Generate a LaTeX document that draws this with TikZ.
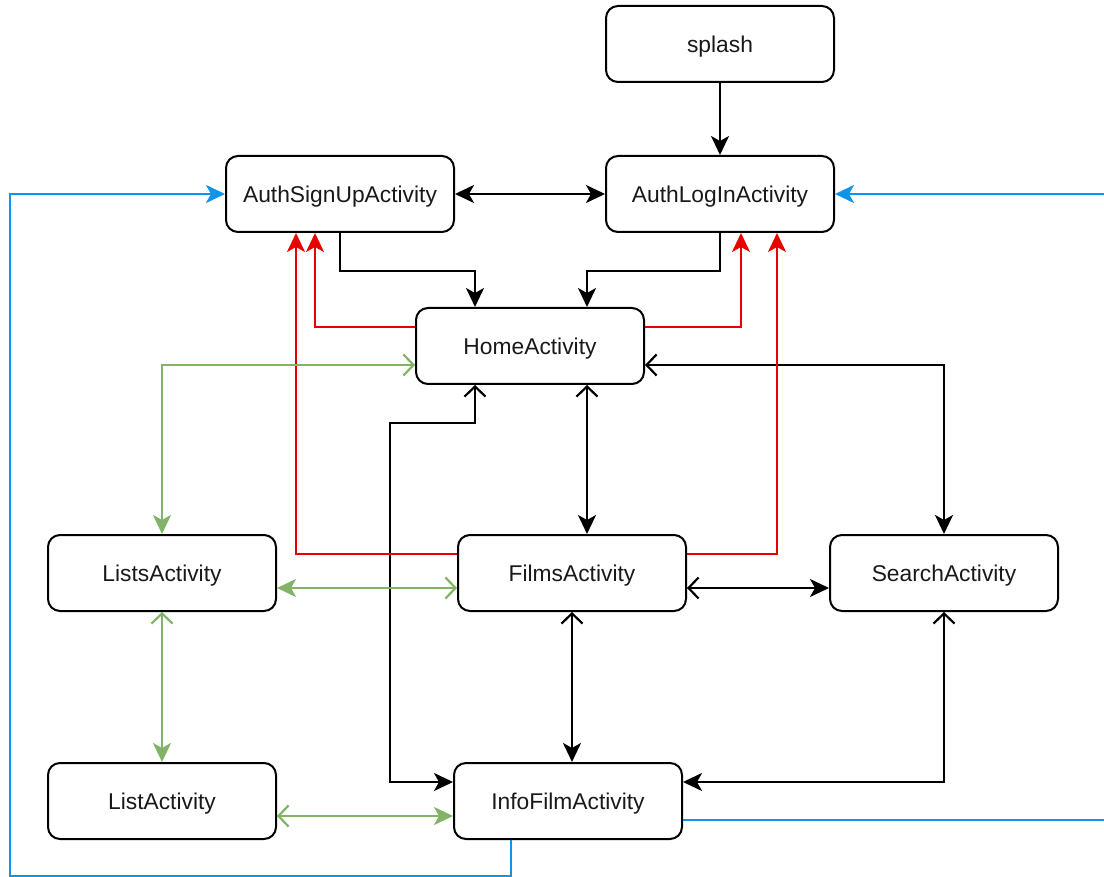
\documentclass[tikz,border=0pt]{standalone}
\usepackage{fontspec}
\setmainfont{Liberation Sans}
\usetikzlibrary{arrows.meta}
\definecolor{flowgreen}{HTML}{82B366}
\definecolor{flowred}{HTML}{E80000}
\definecolor{flowblue}{HTML}{0F94E6}
\tikzstyle{activity} = [rectangle, rounded corners=12pt,
minimum width=228pt,
minimum height=76pt,
text height=22pt,
text depth=5.6pt,
text centered,
draw=black,
line width=2pt,
text=black!90,
font=\fontsize{22.8}{27}\selectfont]
\tikzstyle{arrow} = [line width=2.2pt]
\tikzstyle{fill tip} = [-{Stealth[length=19pt,width=18pt,inset=5pt]}]
\tikzstyle{both tip} = [{Stealth[length=19pt,width=18pt,inset=5pt]}-{Stealth[length=19pt,width=18pt,inset=5pt]}]
\tikzstyle{open fill} = [{Straight Barb[length=10pt,width=21pt]}-{Stealth[length=19pt,width=18pt,inset=5pt]}]
\tikzstyle{fill open} = [{Stealth[length=19pt,width=18pt,inset=5pt]}-{Straight Barb[length=10pt,width=21pt]}]
\begin{document}
\begin{tikzpicture}[x=1pt,y=-1pt]
        \useasboundingbox (0,0) rectangle (1104,877);
        \node (splash) [activity] at (720,44) {splash};
        \node (signup) [activity] at (340,194) {AuthSignUpActivity};
        \node (login) [activity] at (720,194) {AuthLogInActivity};
        \node (home) [activity] at (530,346) {HomeActivity};
        \node (lists) [activity] at (162,573) {ListsActivity};
        \node (films) [activity] at (572,573) {FilmsActivity};
        \node (search) [activity] at (944,573) {SearchActivity};
        \node (list) [activity] at (162,801) {ListActivity};
        \node (info) [activity] at (568,801) {InfoFilmActivity};
        \coordinate (bl) at (10,876);
        \coordinate (br) at (1108,820);
        % black
        \draw [arrow, fill tip] (splash) -- (login);
        \draw [arrow, both tip] (signup) -- (login);
        \draw [arrow, fill tip] (signup.south) -- ++(0,38) -| ([xshift=-55pt]home.north);
        \draw [arrow, fill tip] (login.south) -- ++(0,38) -| ([xshift=57pt]home.north);
        \draw [arrow, open fill] ([xshift=57pt]home.south) -- ([xshift=15pt]films.north);
        \draw [arrow, open fill] ([yshift=-19pt]home.east) -| (search.north);
        \draw [arrow, open fill] ([xshift=-55pt]home.south) -- ++(0,38) -- ++(-85,0) |- ([yshift=19pt]info.west);
        \draw [arrow, open fill] ([yshift=-15pt]films.east) -- ([yshift=-15pt]search.west);
        \draw [arrow, open fill] (films.south) -- ([xshift=4pt]info.north);
        \draw [arrow, open fill] (search.south) |- ([yshift=19pt]info.east);
        % red
        \draw [arrow, flowred, fill tip] ([yshift=19pt]home.west) -| ([xshift=-25pt]signup.south);
        \draw [arrow, flowred, fill tip] ([yshift=19pt]home.east) -| ([xshift=21pt]login.south);
        \draw [arrow, flowred, fill tip] ([yshift=19pt]films.west) -| ([xshift=-44pt]signup.south);
        \draw [arrow, flowred, fill tip] ([yshift=19pt]films.east) -| ([xshift=57pt]login.south);
        % green
        \draw [arrow, flowgreen, fill open] (lists.north) |- ([yshift=-19pt]home.west);
        \draw [arrow, flowgreen, fill open] ([yshift=-15pt]lists.east) -- ([yshift=-15pt]films.west);
        \draw [arrow, flowgreen, open fill] (lists.south) -- (list.north);
        \draw [arrow, flowgreen, open fill] ([yshift=-15pt]list.east) -- ([yshift=-15pt]info.west);
        % blue
        \draw [arrow, flowblue, fill tip] ([xshift=-57pt]info.south) |- (bl) |- (signup.west);
        \draw [arrow, flowblue, fill tip] ([yshift=-19pt]info.east) -- (br) |- (login.east);
    \end{tikzpicture}
\end{document}
